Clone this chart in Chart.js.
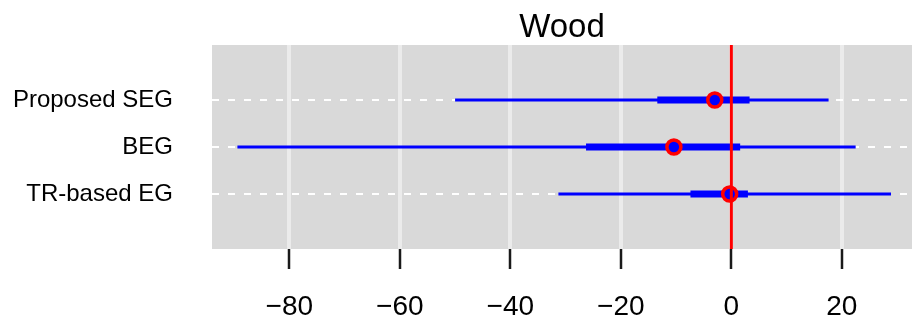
<!DOCTYPE html>
<html>
<head>
<meta charset="utf-8">
<script src="https://cdn.jsdelivr.net/npm/chart.js@4"></script>
<style>
  html, body { margin: 0; padding: 0; background: #fff; }
  canvas { display: block; }
</style>
</head>
<body>
<canvas id="woodChart" width="912" height="323"></canvas>
<script>
// Interval estimates per method
const methods = ['Proposed SEG', 'BEG', 'TR-based EG'];
const estimates = [-3.0, -10.4, -0.3];
const innerLow = [-13.4, -26.3, -7.4];
const innerHigh = [3.3, 1.6, 3.0];
const outerLow = [-50.0, -89.4, -31.3];
const outerHigh = [17.6, 22.5, 28.9];
const xTicks = [-80, -60, -40, -20, 0, 20];
const refLine = 0;

const X_MIN = -94, X_MAX = 32.7;
const Y_MIN = -0.17, Y_MAX = 4.17;

const FONT = '"Liberation Sans", Arial, Helvetica, sans-serif';
const BLUE = '#0000ff';
const RED = '#ff0000';

// grey panel behind the plot
const panelBackground = {
    id: 'panelBackground',
    beforeDraw(chart) {
        const { ctx, chartArea: a } = chart;
        ctx.save();
        ctx.fillStyle = '#d9d9d9';
        ctx.fillRect(a.left, a.top, a.right - a.left, a.bottom - a.top);
        ctx.restore();
    }
};

function segment(lo, hi, row, width) {
    return {
        type: 'line',
        data: [{ x: lo, y: row }, { x: hi, y: row }],
        borderColor: BLUE,
        borderWidth: width,
        borderCapStyle: 'butt',
        pointRadius: 0,
        showLine: true
    };
}

// first dataset is drawn on top
const datasets = [];
datasets.push({
    type: 'line',
    data: [{ x: refLine, y: Y_MIN }, { x: refLine, y: Y_MAX }],
    borderColor: RED,
    borderWidth: 3,
    pointRadius: 0,
    showLine: true
});
datasets.push({
    type: 'scatter',
    data: methods.map((m, i) => ({ x: estimates[i], y: i + 1 })),
    backgroundColor: BLUE,
    borderColor: RED,
    borderWidth: 3.5,
    pointRadius: 7,
    showLine: false
});
methods.forEach((m, i) => datasets.push(segment(innerLow[i], innerHigh[i], i + 1, 7)));
methods.forEach((m, i) => datasets.push(segment(outerLow[i], outerHigh[i], i + 1, 3)));

new Chart(document.getElementById('woodChart'), {
    type: 'scatter',
    data: { datasets },
    options: {
        responsive: false,
        devicePixelRatio: 1,
        animation: false,
        layout: { padding: 0, autoPadding: false },
        plugins: {
            legend: { display: false },
            tooltip: { enabled: false },
            title: {
                display: true,
                text: 'Wood',
                fullSize: false,
                color: '#000',
                font: { family: FONT, size: 33, weight: 'normal', lineHeight: 1 },
                padding: { top: 11, bottom: 1 }
            }
        },
        scales: {
            x: {
                type: 'linear',
                min: X_MIN,
                max: X_MAX,
                afterBuildTicks: (scale) => { scale.ticks = xTicks.map(v => ({ value: v })); },
                afterFit: (scale) => {
                    scale.height = 74;
                    scale.paddingLeft = 0;
                    scale.paddingRight = 0;
                },
                grid: {
                    color: '#ebebeb',
                    lineWidth: 4,
                    tickColor: '#1a1a1a',
                    tickWidth: 2.5,
                    tickLength: 20
                },
                border: { display: false },
                ticks: {
                    color: '#000',
                    padding: 21,
                    maxRotation: 0,
                    font: { family: FONT, size: 28 },
                    callback: (v) => String(v).replace('-', '\u2212')
                }
            },
            y: {
                type: 'linear',
                reverse: true,
                min: Y_MIN,
                max: Y_MAX,
                afterBuildTicks: (scale) => { scale.ticks = methods.map((m, i) => ({ value: i + 1 })); },
                afterFit: (scale) => {
                    scale.width = 212;
                    scale.paddingTop = 0;
                    scale.paddingBottom = 0;
                },
                grid: {
                    color: '#ffffff',
                    lineWidth: 2,
                    drawTicks: false
                },
                border: { display: false, dash: [7, 9] },
                ticks: {
                    color: '#000',
                    padding: 39,
                    font: { family: FONT, size: 24 },
                    callback: (v) => methods[Math.round(v) - 1]
                }
            }
        }
    },
    plugins: [panelBackground]
});
</script>
</body>
</html>
